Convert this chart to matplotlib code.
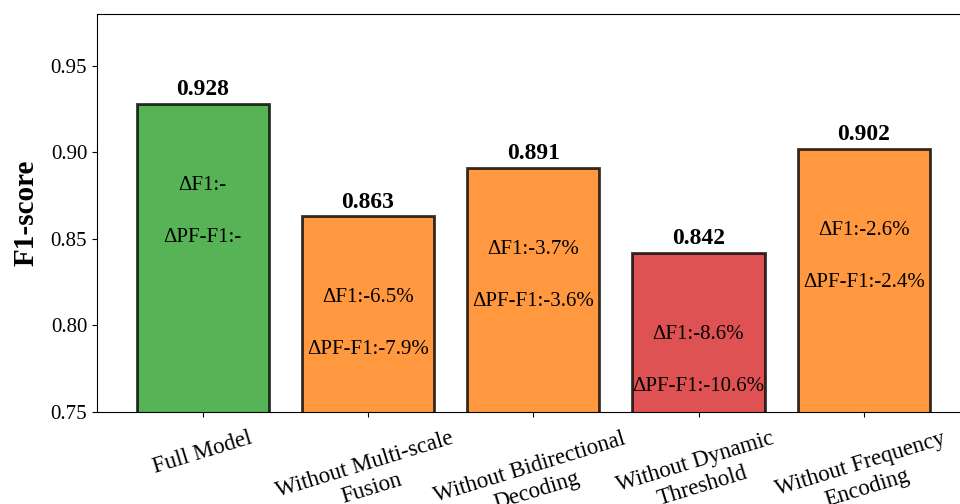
import matplotlib
matplotlib.use("Agg")
from matplotlib import pyplot as plt

plt.rcParams['font.family'] = ['Liberation Serif', 'DejaVu Serif']

models = ['Full Model', 'Without Multi-scale\nFusion', 'Without Bidirectional\nDecoding',
          'Without Dynamic\nThreshold', 'Without Frequency\nEncoding']
f1 = [0.928, 0.863, 0.891, 0.842, 0.902]
delta_f1 = ['-', '-6.5%', '-3.7%', '-8.6%', '-2.6%']
delta_pf = ['-', '-7.9%', '-3.6%', '-10.6%', '-2.4%']
colors = ['tab:green', 'tab:orange', 'tab:orange', 'tab:red', 'tab:orange']

fig = plt.figure(figsize=(9.6, 5.04), dpi=100)
# axes run past the right edge, like the cropped original
ax = fig.add_axes([0.101, 0.1825, 0.909, 0.79])

x = range(len(models))
ax.bar(x, f1, width=0.8, color=colors, edgecolor='black', linewidth=2, alpha=0.8)

for i, v in enumerate(f1):
    ax.text(i, v + 0.002, f"{v:.3f}", ha='center', va='bottom', fontsize=17, fontweight='bold')
    ax.text(i, v - 0.047, f"ΔF1:{delta_f1[i]}", ha='center', va='center', fontsize=15)
    ax.text(i, v - 0.077, f"ΔPF-F1:{delta_pf[i]}", ha='center', va='center', fontsize=15)

ax.set_ylim(0.75, 0.98)
ax.set_xlim(-0.64, 4.64)
ax.set_yticks([0.75, 0.80, 0.85, 0.90, 0.95])
ax.set_xticks(list(x))
ax.set_xticklabels(models, rotation=17, ha='center', fontsize=16.5, linespacing=1.25)
ax.tick_params(axis='x', pad=8)
ax.tick_params(axis='y', labelsize=15)
ax.set_ylabel('F1-score', fontsize=21, fontweight='bold', labelpad=8)

fig.savefig('out.png', dpi=100)
